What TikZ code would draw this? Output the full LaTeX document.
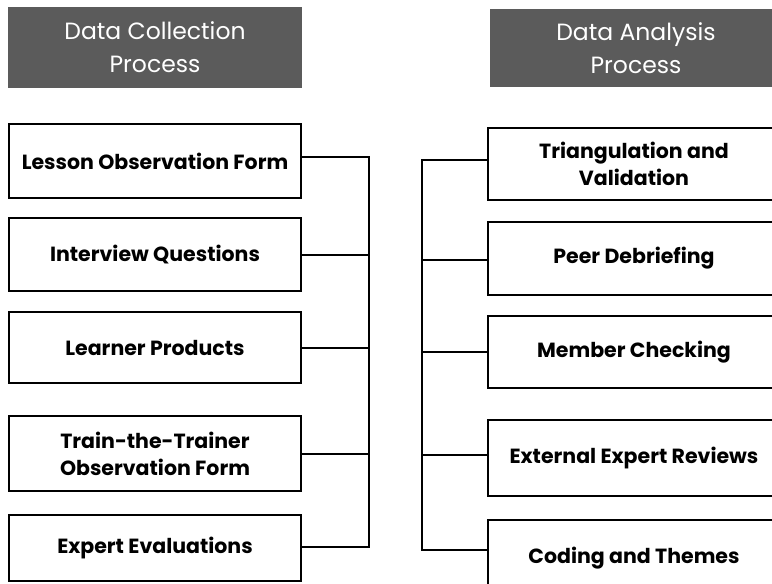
\documentclass[tikz,border=0pt]{standalone}
\usepackage{fontspec}
\setmainfont{Poppins}
\begin{document}
\begin{tikzpicture}[x=1pt,y=-1pt,
  hdr/.style={fill=hdrgray, draw=none, text=white, font=\fontsize{23.5}{33}\selectfont, align=center, inner sep=0pt},
  item/.style={draw=black, line width=2pt, fill=white, font=\bfseries\fontsize{20.5}{27}\selectfont, align=center, inner sep=0pt},
  link/.style={draw=black, line width=2pt}]
\definecolor{hdrgray}{HTML}{5B5B5B}
\clip (0,0) rectangle (772,584);
\useasboundingbox (0,0) rectangle (772,584);
% headers
\node[hdr, minimum width=294pt, minimum height=81pt] (h1) at (155,47.5) {Data Collection\\Process};
\node[hdr, minimum width=292pt, minimum height=78pt] (h2) at (636,48) {Data Analysis\\Process};
% left boxes
\node[item, minimum width=292pt, minimum height=74pt] (l1) at (155,161) {Lesson Observation Form};
\node[item, minimum width=292pt, minimum height=73pt] (l2) at (155,254.5) {Interview Questions};
\node[item, minimum width=292pt, minimum height=71pt] (l3) at (155,347.5) {Learner Products};
\node[item, minimum width=292pt, minimum height=75pt] (l4) at (155,453.5) {Train-the-Trainer\\Observation Form};
\node[item, minimum width=292pt, minimum height=66pt] (l5) at (155,548) {Expert Evaluations};
% right boxes
\node[item, minimum width=292pt, minimum height=72pt] (r1) at (634,164) {Triangulation and\\Validation};
\node[item, minimum width=292pt, minimum height=73pt] (r2) at (634,258.5) {Peer Debriefing};
\node[item, minimum width=292pt, minimum height=72pt] (r3) at (634,352) {Member Checking};
\node[item, minimum width=292pt, minimum height=76pt] (r4) at (634,458) {External Expert Reviews};
\node[item, minimum width=292pt, minimum height=76pt] (r5) at (634,558) {Coding and Themes};
% left bus
\coordinate (lb1) at (369,157);
\coordinate (lb5) at (369,547);
\draw[link] (l1.east |- lb1) -- (lb1) -- (lb5) -- (l5.east |- lb5);
\draw[link] (l2.east) -- (l2.east -| lb1);
\draw[link] (l3.east) -- (l3.east -| lb1);
\draw[link] (l4.east) -- (l4.east -| lb1);
% right bus
\coordinate (rb1) at (422,160);
\coordinate (rb5) at (422,550);
\draw[link] (r1.west |- rb1) -- (rb1) -- (rb5) -- (r5.west |- rb5);
\coordinate (rc2) at (422,260);
\coordinate (rc3) at (422,352);
\coordinate (rc4) at (422,455);
\draw[link] (rc2) -- (r2.west |- rc2);
\draw[link] (rc3) -- (r3.west |- rc3);
\draw[link] (rc4) -- (r4.west |- rc4);
\end{tikzpicture}
\end{document}
